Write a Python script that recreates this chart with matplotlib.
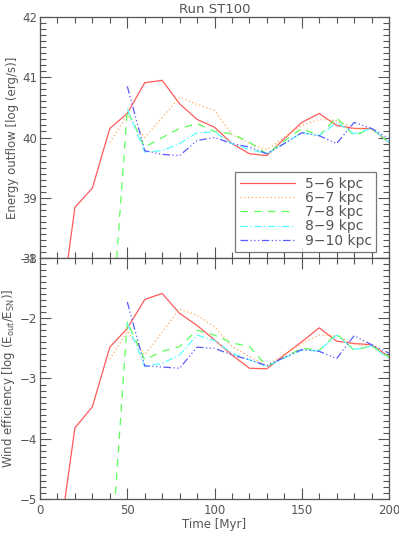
# Run ST100: energy outflow and wind efficiency for five radial shells

import matplotlib
matplotlib.use("Agg")
import matplotlib.pyplot as plt
from matplotlib.ticker import MultipleLocator

# Time [Myr]
t_red = [10, 20, 30, 40, 50, 60, 70, 80, 90, 100, 110, 120, 130, 140, 150, 160, 170, 180, 190, 200]
t_orange = [40, 50, 60, 70, 80, 90, 100, 110, 120, 130, 140, 150, 160, 170, 180, 190, 200]
t_green = t_orange
t_late = [50, 60, 70, 80, 90, 100, 110, 120, 130, 140, 150, 160, 170, 180, 190, 200]

# Energy outflow [log (erg/s)]
e_red = [36.7, 38.84, 39.16, 40.15, 40.4, 40.91, 40.95, 40.56, 40.3, 40.17, 39.9, 39.73, 39.7,
         39.98, 40.25, 40.4, 40.2, 40.15, 40.15, 39.92]
e_orange = [39.92, 40.37, 40.0, 40.33, 40.67, 40.55, 40.45, 40.05, 39.9, 39.8, 40.0, 40.2,
            40.3, 40.28, 40.15, 40.13, 39.92]
e_green = [36.4, 40.45, 39.84, 40.0, 40.15, 40.23, 40.1, 40.06, 39.92, 39.73, 39.94, 40.15,
           40.03, 40.33, 40.03, 40.15, 39.92]
e_cyan = [40.48, 39.76, 39.78, 39.9, 40.08, 40.09, 39.9, 39.8, 39.73, 39.9, 40.08, 40.03,
          40.25, 40.06, 40.15, 39.92]
e_blue = [40.85, 39.78, 39.72, 39.7, 39.95, 40.0, 39.9, 39.84, 39.73, 39.9, 40.08, 40.03,
          39.9, 40.25, 40.15, 39.98]

# Wind efficiency [log (Eout/ESN)]
w_red = [-5.89, -3.82, -3.47, -2.48, -2.17, -1.69, -1.59, -1.92, -2.12, -2.36, -2.61, -2.83,
         -2.84, -2.61, -2.39, -2.16, -2.38, -2.42, -2.44, -2.64]
w_orange = [-2.68, -2.22, -2.61, -2.23, -1.85, -1.95, -2.14, -2.47, -2.64, -2.78, -2.6, -2.42,
            -2.28, -2.29, -2.43, -2.47, -2.64]
w_green = [-6.26, -2.06, -2.69, -2.55, -2.47, -2.2, -2.28, -2.41, -2.47, -2.8, -2.65, -2.5,
           -2.53, -2.26, -2.53, -2.46, -2.64]
w_cyan = [-2.08, -2.8, -2.75, -2.61, -2.28, -2.37, -2.58, -2.69, -2.8, -2.66, -2.53, -2.54,
          -2.28, -2.52, -2.46, -2.67]
w_blue = [-1.73, -2.79, -2.81, -2.83, -2.48, -2.5, -2.61, -2.69, -2.79, -2.65, -2.52, -2.55,
          -2.67, -2.29, -2.44, -2.58]

labels = ["5\u22126 kpc", "6\u22127 kpc", "7\u22128 kpc", "8\u22129 kpc", "9\u221210 kpc"]
colors = ["#ff5a5a", "#ffaa60", "#5aff5a", "#5affff", "#5a5aff"]
styles = ["-", (0, (1, 2)), (0, (6, 5)), (0, (6, 2, 1, 2)), (0, (6, 2, 1, 2, 1, 2, 1, 2))]

gray = "#555555"
plt.rcParams["font.family"] = "DejaVu Sans"
plt.rcParams["text.color"] = gray
plt.rcParams["axes.labelcolor"] = gray
plt.rcParams["xtick.color"] = gray
plt.rcParams["ytick.color"] = gray
plt.rcParams["axes.edgecolor"] = gray

fig = plt.figure(figsize=(3.99, 5.34), dpi=100)
ax1 = fig.add_axes([0.1003, 0.517, 0.8747, 0.451])
ax2 = fig.add_axes([0.1003, 0.0655, 0.8747, 0.4515])

top = [(t_red, e_red), (t_orange, e_orange), (t_green, e_green), (t_late, e_cyan), (t_late, e_blue)]
bot = [(t_red, w_red), (t_orange, w_orange), (t_green, w_green), (t_late, w_cyan), (t_late, w_blue)]

for i in range(5):
    ax1.plot(top[i][0], top[i][1], color=colors[i], ls=styles[i], lw=0.9, label=labels[i])
    ax2.plot(bot[i][0], bot[i][1], color=colors[i], ls=styles[i], lw=0.9)

ax1.set_ylim(38, 42)
ax2.set_ylim(-5, -1)
for ax in (ax1, ax2):
    ax.set_xlim(0, 200)
    ax.xaxis.set_major_locator(MultipleLocator(50))
    ax.xaxis.set_minor_locator(MultipleLocator(10))
    ax.yaxis.set_major_locator(MultipleLocator(1))
    ax.yaxis.set_minor_locator(MultipleLocator(0.1))
    ax.tick_params(which="both", direction="in", top=True, right=True, width=0.8, labelsize=8.5)
    ax.tick_params(which="major", length=8)
    ax.tick_params(which="minor", length=4)
    ax.tick_params(axis="y", pad=2)
    for s in ax.spines.values():
        s.set_linewidth(0.9)

ax1.tick_params(labelbottom=False)
ax1.set_title("Run ST100", fontsize=9.5, pad=3)
ax1.set_ylabel("Energy outflow [log (erg/s)]", fontsize=8.5, labelpad=2)
ax2.set_ylabel("Wind efficiency [log (E$_{\\rm out}$/E$_{\\rm SN}$)]", fontsize=8.5, labelpad=2)
ax2.set_xlabel("Time [Myr]", fontsize=8.5, labelpad=1)

leg = ax1.legend(loc="lower right", bbox_to_anchor=(0.963, 0.025), fontsize=10, frameon=True,
                 fancybox=False, edgecolor=gray, handlelength=4.0, labelspacing=0.02,
                 borderpad=0.3, handletextpad=0.7, borderaxespad=0)
leg.get_frame().set_linewidth(0.9)

fig.savefig("out.png", dpi=100)
